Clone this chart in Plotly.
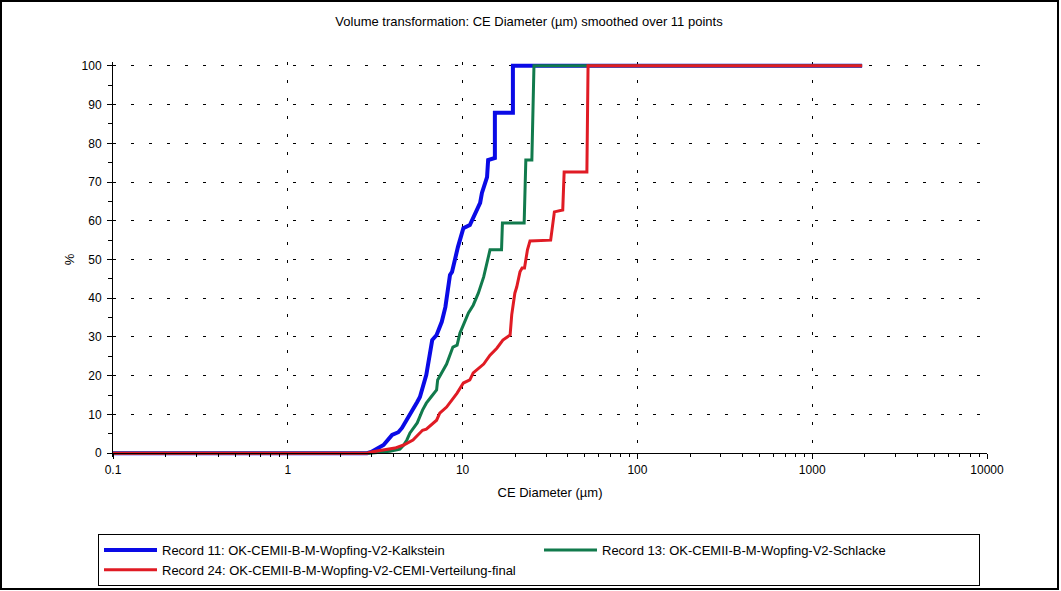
import plotly.graph_objects as go

# ---- data ----
names = [
    "Record 11: OK-CEMII-B-M-Wopfing-V2-Kalkstein",
    "Record 13: OK-CEMII-B-M-Wopfing-V2-Schlacke",
    "Record 24: OK-CEMII-B-M-Wopfing-V2-CEMI-Verteilung-final",
]

blue_x = [0.1, 2.84, 3.0, 3.37, 3.53, 3.95, 4.29, 4.5, 5.0, 5.5,
          5.7, 6.2, 6.7, 7.1, 7.6, 7.97, 8.47, 8.7, 9.4, 10.1,
          11.0, 11.8, 12.6, 12.9, 13.5, 13.8, 14.0, 15.3, 15.3, 19.4,
          19.4, 1930]
blue_y = [0, 0, 0.3, 1.6, 2.1, 4.7, 5.4, 6.5, 9.8, 13.2,
          14.5, 20.2, 29.2, 30.5, 33.9, 37.7, 46.0, 46.8, 53.2, 58.1,
          58.9, 62.0, 64.6, 67.2, 70.5, 71.3, 75.7, 76.2, 87.9, 87.9,
          100, 100]

green_x = [0.1, 2.95, 3.84, 4.38, 4.6, 4.8, 5.0, 5.5, 5.9, 6.2,
           6.6, 7.1, 7.2, 8.1, 8.8, 9.3, 9.66, 10.4, 10.8, 11.5,
           12.3, 13.2, 13.8, 14.35, 16.7, 16.9, 22.5, 23.0, 24.9, 25.6,
           1930]
green_y = [0, 0, 0.5, 1.0, 2.1, 3.4, 5.2, 7.8, 11.1, 12.9,
           14.5, 16.3, 18.9, 23.0, 27.4, 27.9, 31.0, 34.4, 36.2, 38.2,
           41.3, 45.5, 49.1, 52.5, 52.5, 59.4, 59.4, 75.7, 75.7, 100,
           100]

red_x = [0.1, 2.84, 3.0, 3.6, 4.1, 4.6, 5.2, 5.9, 6.2, 7.1,
         7.4, 8.1, 9.3, 10.1, 11.0, 11.5, 13.2, 14.35, 15.7, 17.0,
         18.1, 18.7, 19.1, 19.4, 19.9, 20.4, 21.3, 21.9, 22.6, 23.5,
         24.3, 31.9, 33.5, 37.4, 38.1, 51.4, 52.2, 1930]
red_y = [0, 0, 0.3, 0.8, 1.3, 2.1, 3.4, 5.9, 6.2, 8.5,
         10.3, 11.9, 15.5, 18.1, 18.9, 20.7, 23.0, 25.3, 27.1, 29.2,
         30.0, 30.5, 35.7, 37.7, 41.3, 42.9, 46.8, 47.8, 47.8, 52.5,
         54.8, 55.0, 62.3, 62.8, 72.6, 72.6, 100, 100]

x_tickvals = [0.1, 1, 10, 100, 1000, 10000]
x_ticktext = ["0.1", "1", "10", "100", "1000", "10000"]
y_tickvals = [0, 10, 20, 30, 40, 50, 60, 70, 80, 90, 100]

FONT = "Liberation Sans, Arial, sans-serif"

W, H = 1061, 591
L, R, T, B = 113, 74, 62, 134
PW, PH = W - L - R, H - T - B          # plot area in px


def px_x(p):
    return (p - L) / PW


def px_y(p):
    return (H - B - p) / PH


fig = go.Figure()
fig.add_trace(go.Scatter(x=blue_x, y=blue_y, mode="lines", name=names[0],
                         line=dict(color="#0a0ae6", width=4)))
fig.add_trace(go.Scatter(x=green_x, y=green_y, mode="lines", name=names[1],
                         line=dict(color="#117a4c", width=3)))
fig.add_trace(go.Scatter(x=red_x, y=red_y, mode="lines", name=names[2],
                         line=dict(color="#e01b24", width=3)))

fig.update_layout(
    width=W, height=H,
    margin=dict(l=L, r=R, t=T, b=B, autoexpand=False),
    paper_bgcolor="white", plot_bgcolor="white",
    font=dict(family=FONT, size=12, color="black"),
    title=dict(text="Volume transformation: CE Diameter (µm) smoothed over 11 points",
               x=529 / W, xref="container", xanchor="center",
               y=1 - 21 / H, yref="container", yanchor="middle",
               font=dict(family=FONT, size=13, color="black")),
    showlegend=True,
    legend=dict(orientation="h", x=px_x(98), xanchor="left",
                y=px_y(534), yanchor="top",
                entrywidth=372, itemwidth=53,
                bordercolor="black", borderwidth=1, bgcolor="white",
                font=dict(family=FONT, size=13, color="black"),
                traceorder="normal"),
)

fig.update_xaxes(
    type="log", range=[-1, 4], anchor="free", position=1 / 102,
    tickvals=x_tickvals, ticktext=x_ticktext,
    showline=True, linecolor="black", linewidth=1,
    ticks="outside", ticklen=5, tickcolor="black",
    showgrid=True, gridcolor="black", gridwidth=1, griddash="3px,15px",
    minor=dict(ticks="outside", ticklen=3, tickcolor="black", dtick="D1", showgrid=False),
    zeroline=False,
    title=dict(text="CE Diameter (µm)", standoff=12, font=dict(family=FONT, size=13)),
    tickfont=dict(family=FONT, size=12, color="black"),
)
fig.update_yaxes(
    range=[-1, 101], tickvals=y_tickvals,
    showline=True, linecolor="black", linewidth=1,
    ticks="outside", ticklen=5, tickcolor="black", ticklabelstandoff=3,
    showgrid=True, gridcolor="black", gridwidth=1, griddash="3px,15px",
    minor=dict(ticks="outside", ticklen=4, tickcolor="black", dtick=5, showgrid=False),
    zeroline=False,
    title=dict(text="%", standoff=4, font=dict(family=FONT, size=13)),
    tickfont=dict(family=FONT, size=12, color="black"),
)

# outer frame around the whole picture
fig.add_shape(type="rect", xref="paper", yref="paper",
              x0=px_x(1), x1=px_x(1058), y0=px_y(589), y1=px_y(1),
              line=dict(color="black", width=2), fillcolor="rgba(0,0,0,0)")

fig.write_html("out.html",
               config={"displayModeBar": False},
               post_script="document.body.style.margin='0';"
                           "document.body.style.overflow='hidden';")
